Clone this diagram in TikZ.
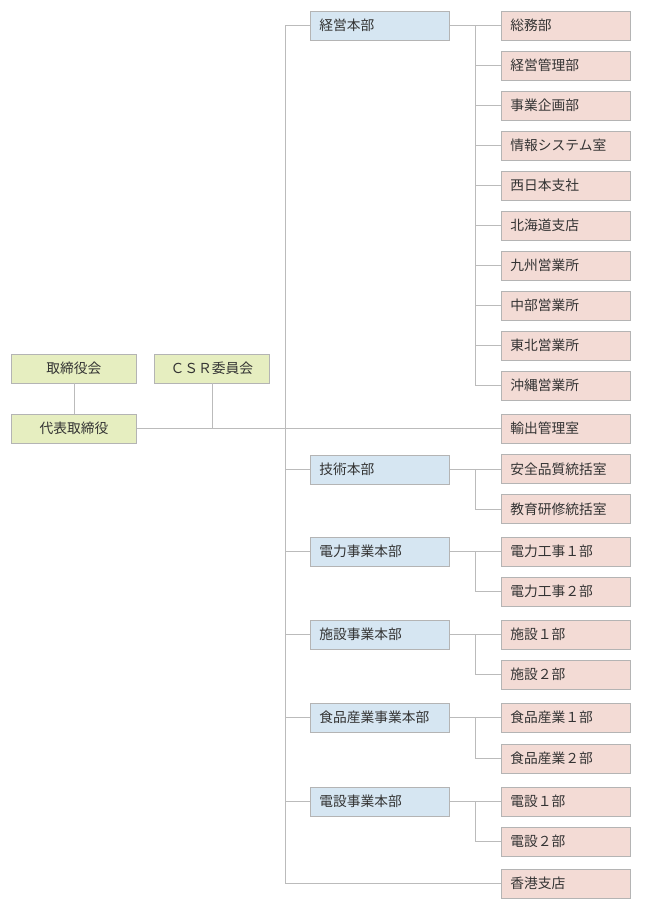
\documentclass[tikz,border=0pt]{standalone}
\usepackage{fontspec}
\newfontfamily\jp{Noto Sans CJK JP}
\definecolor{gfill}{HTML}{E6EEC0}
\definecolor{bfill}{HTML}{D6E6F2}
\definecolor{pfill}{HTML}{F3DBD5}
\definecolor{boxline}{HTML}{B4B4B4}
\definecolor{lin}{HTML}{BBBBBB}
\definecolor{txt}{HTML}{333333}
\begin{document}
\begin{tikzpicture}[x=1pt,y=-1pt,
 box/.style={draw=boxline, line width=0.8pt, minimum height=29pt, inner ysep=0pt,
   font=\jp\fontsize{13.75}{15}\selectfont, text=txt, anchor=west},
 grn/.style={box, fill=gfill, minimum width=125pt, inner xsep=0pt, align=center},
 blu/.style={box, fill=bfill, text width=121pt, inner xsep=9pt, align=left},
 pnk/.style={box, fill=pfill, text width=111pt, inner xsep=9pt, align=left},
 conn/.style={draw=lin, line width=0.8pt}]
\useasboundingbox (0,0) rectangle (650,910);
\coordinate (tk) at (285,0);
\coordinate (br) at (475,0);
% left
\node[grn] (torishimari) at (11,368.5) {取締役会};
\node[grn, minimum width=115pt] (csr) at (154,368.5) {ＣＳＲ委員会};
\node[grn] (daihyo) at (11,428.5) {代表取締役};
% divisions
\node[blu] (keiei) at (310,25.5) {経営本部};
\node[blu] (gijutsu) at (310,469.5) {技術本部};
\node[blu] (denryoku) at (310,551.5) {電力事業本部};
\node[blu] (shisetsu) at (310,634.5) {施設事業本部};
\node[blu] (shokuhin) at (310,717.5) {食品産業事業本部};
\node[blu] (densetsu) at (310,801.5) {電設事業本部};
% departments
\node[pnk] (k1) at (501,25.5) {総務部};
\node[pnk] (k2) at (501,65.5) {経営管理部};
\node[pnk] (k3) at (501,105.5) {事業企画部};
\node[pnk] (k4) at (501,145.5) {情報システム室};
\node[pnk] (k5) at (501,185.5) {西日本支社};
\node[pnk] (k6) at (501,225.5) {北海道支店};
\node[pnk] (k7) at (501,265.5) {九州営業所};
\node[pnk] (k8) at (501,305.5) {中部営業所};
\node[pnk] (k9) at (501,345.5) {東北営業所};
\node[pnk] (k10) at (501,385.5) {沖縄営業所};
\node[pnk] (yushutsu) at (501,428.5) {輸出管理室};
\node[pnk] (g1) at (501,469) {安全品質統括室};
\node[pnk] (g2) at (501,509) {教育研修統括室};
\node[pnk] (d1) at (501,551.5) {電力工事１部};
\node[pnk] (d2) at (501,591.5) {電力工事２部};
\node[pnk] (s1) at (501,634.5) {施設１部};
\node[pnk] (s2) at (501,674.5) {施設２部};
\node[pnk] (f1) at (501,717.5) {食品産業１部};
\node[pnk] (f2) at (501,758.5) {食品産業２部};
\node[pnk] (e1) at (501,801.5) {電設１部};
\node[pnk] (e2) at (501,841.5) {電設２部};
\node[pnk] (hk) at (501,883.5) {香港支店};
% connectors
\draw[conn] (torishimari) -- (daihyo);
\draw[conn] (daihyo.east) -- (yushutsu.west);
\draw[conn] (csr.south) -- (csr.south |- daihyo.east);
\draw[conn] (keiei.west) -- (keiei.west -| tk) -- (hk.west -| tk) -- (hk.west);
\foreach \d in {gijutsu,denryoku,shisetsu,shokuhin,densetsu}
  \draw[conn] (\d.west) -- (\d.west -| tk);
% keiei group
\draw[conn] (keiei.east) -- (k1.west);
\draw[conn] (br |- k1.west) -- (br |- k10.west);
\foreach \k in {k2,k3,k4,k5,k6,k7,k8,k9,k10}
  \draw[conn] (br |- \k.west) -- (\k.west);
% two-member groups
\foreach \d/\a/\b in {gijutsu/g1/g2,denryoku/d1/d2,shisetsu/s1/s2,shokuhin/f1/f2,densetsu/e1/e2}
  \draw[conn] (\d.east) -- (br |- \d.east) -- (br |- \a.west) -- (\a.west)
              (br |- \a.west) -- (br |- \b.west) -- (\b.west);
\end{tikzpicture}
\end{document}
